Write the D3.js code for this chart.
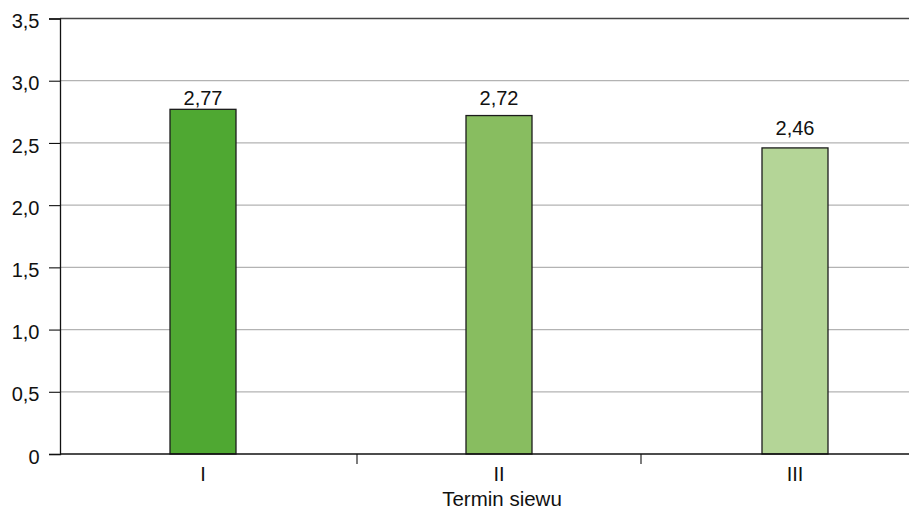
<!DOCTYPE html>
<html>
<head>
<meta charset="utf-8">
<script src="https://cdn.jsdelivr.net/npm/d3@7"></script>
<style>
  html, body { margin: 0; padding: 0; background: #fff; }
  svg { display: block; font-family: "Liberation Sans", Arial, sans-serif; }
</style>
</head>
<body>
<svg id="chart" width="909" height="509"></svg>
<script>
// Sowing term categories and their values
const categories = ["I", "II", "III"];
const values = [2.77, 2.72, 2.46];
const barColors = ["#4fa832", "#88bd60", "#b4d597"];
const yTicks = [0, 0.5, 1.0, 1.5, 2.0, 2.5, 3.0, 3.5];
const xTitle = "Termin siewu";

const fmt = v => v === 0 ? "0" : d3.format(".1f")(v).replace(".", ",");
const fmtVal = v => d3.format(".2f")(v).replace(".", ",");

const svg = d3.select("#chart");
const plotLeft = 60, plotRight = 909, plotTop = 18.5, plotBottom = 454;
const fontSize = 20;
// vertical gap between each bar top and its value label (px)
const labelGap = [4.5, 10.5, 12.5];

const x = d3.scaleBand().domain(categories).range([55, 943]).paddingInner(0).paddingOuter(0);
const barW = 66;
const y = d3.scaleLinear().domain([0, 3.5]).range([plotBottom, plotTop]);

// horizontal gridlines
svg.append("g").selectAll("line")
  .data(yTicks.filter(t => t > 0 && t < 3.5))
  .join("line")
  .attr("x1", plotLeft).attr("x2", plotRight)
  .attr("y1", d => y(d)).attr("y2", d => y(d))
  .attr("stroke", "#b3b3b3").attr("stroke-width", 1.2);

// top frame line
svg.append("line")
  .attr("x1", plotLeft).attr("x2", plotRight)
  .attr("y1", y(3.5)).attr("y2", y(3.5))
  .attr("stroke", "#444").attr("stroke-width", 1.6);

// y axis
const yAxis = d3.axisLeft(y).tickValues(yTicks).tickSize(11).tickFormat(fmt);
const gy = svg.append("g").attr("transform", `translate(${plotLeft},0)`).call(yAxis);
gy.attr("font-size", fontSize).attr("font-family", "Liberation Sans, Arial, sans-serif");
gy.select(".domain").attr("stroke", "#111").attr("stroke-width", 1.3);
gy.selectAll(".tick line").attr("stroke", "#111").attr("stroke-width", 1.1);
gy.selectAll(".tick text").attr("fill", "#111")
  .attr("x", -20.5).attr("dy", "0.46em");

// bars
svg.append("g").selectAll("rect")
  .data(values)
  .join("rect")
  .attr("x", (d, i) => x(categories[i]) + x.bandwidth() / 2 - barW / 2)
  .attr("width", barW)
  .attr("y", d => y(d))
  .attr("height", d => y(0) - y(d))
  .attr("fill", (d, i) => barColors[i])
  .attr("stroke", "#1c1c1c").attr("stroke-width", 1.3);

// value labels
svg.append("g").selectAll("text")
  .data(values)
  .join("text")
  .attr("x", (d, i) => x(categories[i]) + x.bandwidth() / 2)
  .attr("y", (d, i) => y(d) - labelGap[i])
  .attr("text-anchor", "middle")
  .attr("font-size", fontSize).attr("fill", "#111")
  .text(d => fmtVal(d));

// x axis baseline
svg.append("line")
  .attr("x1", plotLeft).attr("x2", plotRight)
  .attr("y1", y(0)).attr("y2", y(0))
  .attr("stroke", "#111").attr("stroke-width", 1.3);

// category separators
const mid = x("II") + x.bandwidth() / 2;
svg.append("g").selectAll("line")
  .data([mid - 142, mid + 142])
  .join("line")
  .attr("x1", d => d).attr("x2", d => d)
  .attr("y1", y(0)).attr("y2", y(0) + 10)
  .attr("stroke", "#111").attr("stroke-width", 1.1);

// category labels
svg.append("g").selectAll("text")
  .data(categories)
  .join("text")
  .attr("x", d => x(d) + x.bandwidth() / 2)
  .attr("y", 481)
  .attr("text-anchor", "middle")
  .attr("font-size", fontSize).attr("fill", "#111")
  .text(d => d);

// axis title
svg.append("text")
  .attr("x", mid + 3).attr("y", 506)
  .attr("text-anchor", "middle")
  .attr("font-size", 20.5).attr("fill", "#111")
  .text(xTitle);
</script>
</body>
</html>
